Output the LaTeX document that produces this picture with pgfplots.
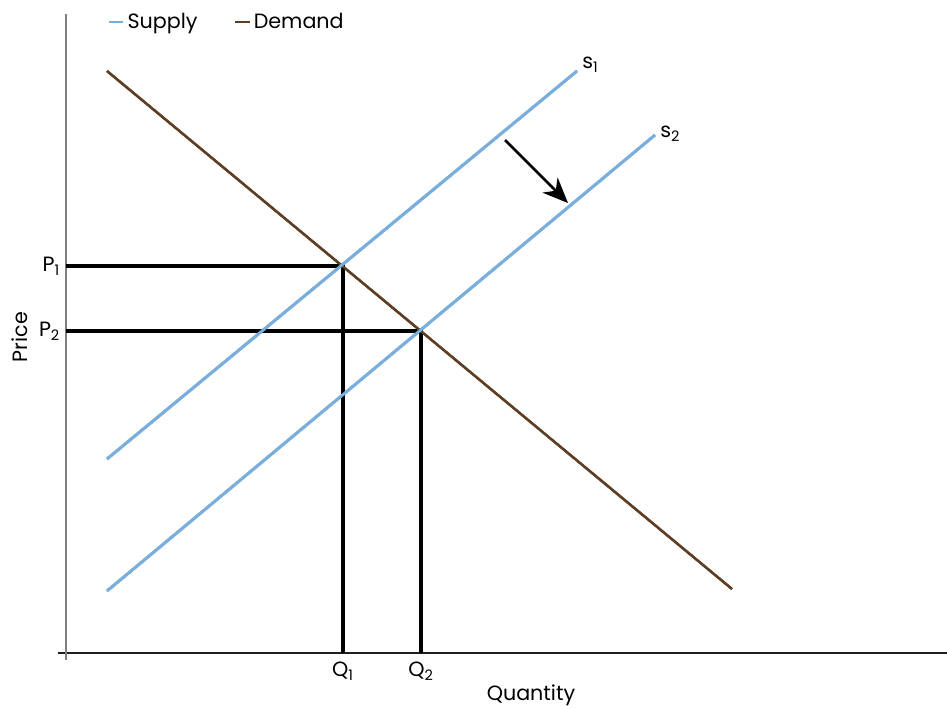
\documentclass[border=0pt]{standalone}
\usepackage{fontspec}
\setmainfont{Poppins}
\usepackage{pgfplots}
\pgfplotsset{compat=1.18}
\usetikzlibrary{arrows.meta}
\definecolor{supplyblue}{HTML}{7AAEDC}
\definecolor{demandbrown}{HTML}{5E3F26}
\definecolor{axisgray}{HTML}{808080}
\newcommand{\lblfont}{\fontsize{15.5}{18}\selectfont}
\begin{document}
\begin{tikzpicture}
\begin{axis}[
  x=0.75pt, y=0.75pt,
  xmin=-8, xmax=881, ymin=-7, ymax=639,
  axis lines=middle,
  axis line style={-},
  x axis line style={draw=black!88, line width=1.5pt},
  y axis line style={draw=axisgray, line width=2pt},
  xtick={277,355}, xticklabels={Q\textsubscript{1},Q\textsubscript{2}},
  ytick={322,387}, yticklabels={P\textsubscript{2},P\textsubscript{1}},
  major tick length=0pt,
  xticklabel style={font=\lblfont, anchor=north, yshift=-3pt},
  yticklabel style={font=\lblfont, anchor=east, xshift=-1pt},
  clip=false,
  legend columns=2,
  legend style={at={(axis cs:41,631)}, anchor=west, draw=none, fill=none,
    font=\lblfont, inner sep=0pt, row sep=0pt,
    /tikz/every even column/.append style={column sep=25pt}},
  legend cell align=left,
  legend image code/.code={\draw[#1, line width=2.2pt] (0pt,0pt) -- (11pt,0pt);},
]
% supply S1
\addplot[supplyblue, line width=2.2pt] coordinates {(41,194) (511,582)};
\addlegendentry{Supply}
% demand
\addplot[demandbrown, line width=1.8pt] coordinates {(41,582) (666,64)};
\addlegendentry{Demand}
% supply S2
\addplot[supplyblue, line width=2.2pt, forget plot] coordinates {(41,62) (589,518)};
% guide lines
\addplot[black, line width=2.3pt, forget plot, line join=miter] coordinates {(0,387) (277,387) (277,0)};
\addplot[black, line width=2.3pt, forget plot, line join=miter] coordinates {(0,322) (355,322) (355,0)};
% redraw curves over guides
\addplot[demandbrown, line width=1.8pt, forget plot] coordinates {(41,582) (666,64)};
\addplot[supplyblue, line width=2.2pt, forget plot] coordinates {(41,194) (511,582)};
\addplot[supplyblue, line width=2.2pt, forget plot] coordinates {(41,62) (589,518)};
% shift arrow
\draw[black, line width=1.9pt, -{Stealth[length=19pt, width=16pt, inset=6pt]}] (axis cs:439,513) -- (axis cs:502,450);
% curve labels
\node[anchor=west, font=\lblfont, inner sep=0pt] at (axis cs:516,588) {s\textsubscript{1}};
\node[anchor=west, font=\lblfont, inner sep=0pt] at (axis cs:594,519) {s\textsubscript{2}};
% axis titles
\node[anchor=base, font=\lblfont, inner sep=0pt] at (axis cs:465,-47) {Quantity};
\node[anchor=base, rotate=90, font=\lblfont, inner sep=0pt] at (axis cs:-38,316) {Price};
\coordinate (bl) at (axis cs:-66,-55);
\coordinate (tr) at (axis cs:881,653);
\end{axis}
\pgfresetboundingbox
\path (bl) rectangle (tr);
\end{tikzpicture}
\end{document}
